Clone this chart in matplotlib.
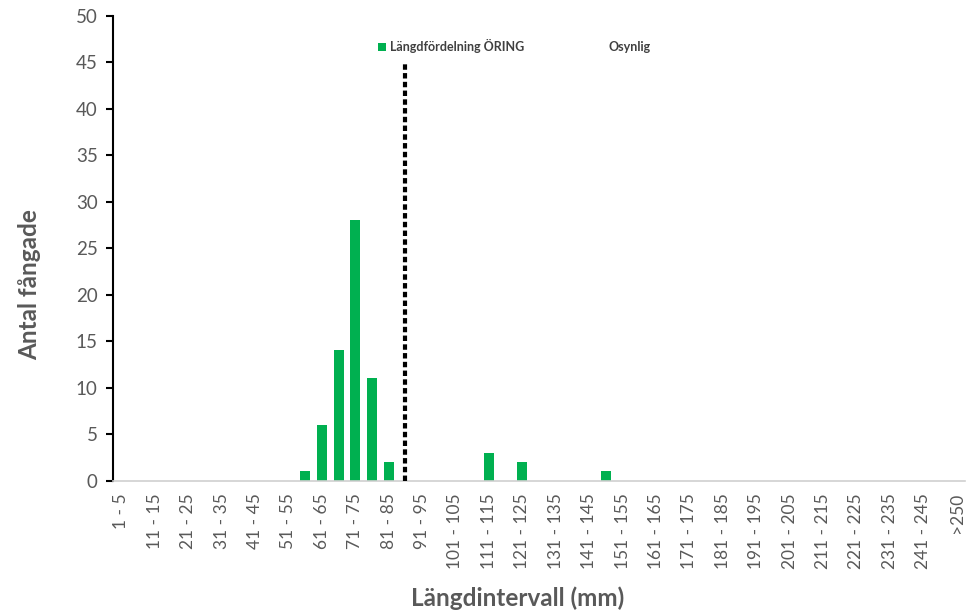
import matplotlib
matplotlib.use('Agg')
import matplotlib.pyplot as plt
from matplotlib.lines import Line2D
from matplotlib.patches import Patch

# length classes (mm), 5 mm bins plus >250
lengthClasses = ['%d - %d' % (lo, lo + 4) for lo in range(1, 250, 5)] + ['>250']

# number of caught trout per class (only non-zero classes listed)
countsByClass = {
    '56 - 60': 1,
    '61 - 65': 6,
    '66 - 70': 14,
    '71 - 75': 28,
    '76 - 80': 11,
    '81 - 85': 2,
    '111 - 115': 3,
    '121 - 125': 2,
    '146 - 150': 1,
}
counts = [countsByClass.get(c, 0) for c in lengthClasses]

# invisible helper series drawn as dashed line
osynligClass = '86 - 90'
osynligY = [0, 45]

yTicks = list(range(0, 51, 5))

plt.rcParams['font.family'] = ['Lato', 'DejaVu Sans']
grey = '#595959'

fig = plt.figure(figsize=(9.68, 6.16), dpi=100)
ax = fig.add_axes([113 / 968, 1 - 480.5 / 616, 852 / 968, 464.5 / 616])

xs = list(range(len(lengthClasses)))
ax.bar(xs, counts, width=0.6, color='#00B050', zorder=2)

xo = lengthClasses.index(osynligClass)
ax.plot([xo, xo], osynligY, color='black', lw=3, linestyle=(0, (1.3, 0.8)), zorder=3)

ax.set_xlim(-0.5, len(lengthClasses) - 0.5)
ax.set_ylim(0, 50)
ax.set_yticks(yTicks)
ax.set_xticks(xs[::2])
ax.set_xticklabels(lengthClasses[::2], rotation=90, fontsize=12.5, color=grey)
ax.tick_params(axis='x', length=0, pad=9)
ax.tick_params(axis='y', direction='out', length=5, width=1.5, colors='black', labelcolor=grey, labelsize=13.5, pad=6)

for side in ['top', 'right']:
    ax.spines[side].set_visible(False)
ax.spines['left'].set_linewidth(1.5)
ax.spines['left'].set_color('black')
ax.spines['bottom'].set_color('#D0D0D0')
ax.spines['bottom'].set_linewidth(1.2)

ax.set_ylabel('Antal fångade', fontsize=17.5, fontweight='bold', color=grey)
ax.yaxis.set_label_coords((30 - 113) / 852, (480.5 - 285) / 464.5)
ax.set_xlabel('Längdintervall (mm)', fontsize=17.5, fontweight='bold', color=grey)
ax.xaxis.set_label_coords((518 - 113) / 852, (480.5 - 598) / 464.5)
ax.xaxis.label.set_va('center')
ax.yaxis.label.set_va('center')

handles = [Patch(facecolor='#00B050', edgecolor='none'),
           Line2D([], [], color='none')]
leg = ax.legend(handles, ['Längdfördelning ÖRING', 'Osynlig'], ncol=2, frameon=False,
                loc='center', bbox_to_anchor=(0.471, 0.935), prop={'size': 9, 'weight': 'bold'},
                handlelength=0.65, handleheight=0.65, handletextpad=0.3, columnspacing=5.8)
for t in leg.get_texts():
    t.set_color('#404040')

fig.savefig('out.png', dpi=100)
